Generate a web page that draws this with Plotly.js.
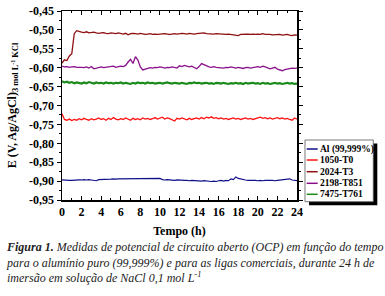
<!DOCTYPE html>
<html><head><meta charset="utf-8">
<script src="https://cdn.plot.ly/plotly-3.0.1.min.js"></script>
<style>html,body{margin:0;padding:0;background:#fff}#c{width:385px;height:296px}</style>
</head><body><div id="c"></div>
<script>
const time = [0,0.25,0.5,0.75,1,1.25,1.5,1.75,2,2.25,2.5,2.75,3,3.25,3.5,3.75,4,4.25,4.5,4.75,5,5.25,5.5,5.75,6,6.25,6.5,6.75,7,7.25,7.5,7.75,8,8.25,8.5,8.75,9,9.25,9.5,9.75,10,10.25,10.5,10.75,11,11.25,11.5,11.75,12,12.25,12.5,12.75,13,13.25,13.5,13.75,14,14.25,14.5,14.75,15,15.25,15.5,15.75,16,16.25,16.5,16.75,17,17.25,17.5,17.75,18,18.25,18.5,18.75,19,19.25,19.5,19.75,20,20.25,20.5,20.75,21,21.25,21.5,21.75,22,22.25,22.5,22.75,23,23.25,23.5,23.75,24];

const seriesNames = ["Al (99,999%)","1050-T0","2024-T3","2198-T851","7475-T761"];

const al = [
-0.897,-0.898,-0.897,-0.898,-0.898,-0.897,-0.898,-0.897,
-0.897,-0.896,-0.897,-0.896,-0.897,-0.898,-0.899,-0.896,
-0.896,-0.895,-0.896,-0.895,-0.895,-0.894,-0.895,-0.894,
-0.894,-0.893,-0.894,-0.893,-0.892,-0.892,-0.893,-0.892,
-0.892,-0.893,-0.892,-0.893,-0.892,-0.893,-0.893,-0.892,
-0.893,-0.896,-0.897,-0.896,-0.897,-0.897,-0.898,-0.897,
-0.898,-0.897,-0.898,-0.898,-0.899,-0.898,-0.899,-0.899,
-0.899,-0.900,-0.899,-0.900,-0.900,-0.901,-0.900,-0.901,
-0.899,-0.898,-0.900,-0.898,-0.899,-0.894,-0.896,-0.889,
-0.893,-0.895,-0.896,-0.897,-0.898,-0.897,-0.898,-0.898,
-0.899,-0.898,-0.899,-0.898,-0.899,-0.898,-0.898,-0.899,
-0.898,-0.897,-0.896,-0.894,-0.893,-0.894,-0.897,-0.899,
-0.899];

const a1050 = [
-0.722,-0.737,-0.739,-0.736,-0.740,-0.737,-0.739,-0.735,
-0.738,-0.734,-0.737,-0.739,-0.735,-0.738,-0.736,-0.733,
-0.737,-0.735,-0.739,-0.734,-0.737,-0.732,-0.736,-0.738,
-0.735,-0.737,-0.733,-0.736,-0.739,-0.734,-0.737,-0.735,
-0.738,-0.733,-0.736,-0.734,-0.737,-0.735,-0.732,-0.736,
-0.734,-0.731,-0.736,-0.733,-0.735,-0.737,-0.741,-0.734,
-0.736,-0.733,-0.735,-0.738,-0.734,-0.737,-0.735,-0.733,
-0.736,-0.732,-0.735,-0.731,-0.733,-0.730,-0.734,-0.732,
-0.735,-0.733,-0.736,-0.734,-0.737,-0.735,-0.733,-0.736,
-0.734,-0.737,-0.735,-0.733,-0.736,-0.734,-0.737,-0.735,
-0.733,-0.731,-0.734,-0.732,-0.735,-0.733,-0.736,-0.734,
-0.732,-0.735,-0.733,-0.736,-0.734,-0.737,-0.739,-0.733,
-0.736];

const a2024 = [
-0.588,-0.579,-0.581,-0.569,-0.563,-0.510,-0.502,-0.505,
-0.506,-0.507,-0.505,-0.508,-0.507,-0.506,-0.508,-0.509,
-0.508,-0.507,-0.509,-0.510,-0.508,-0.509,-0.510,-0.508,
-0.509,-0.511,-0.509,-0.513,-0.510,-0.509,-0.510,-0.511,
-0.509,-0.510,-0.512,-0.511,-0.510,-0.512,-0.511,-0.512,
-0.511,-0.512,-0.510,-0.511,-0.512,-0.511,-0.510,-0.511,
-0.510,-0.509,-0.510,-0.511,-0.509,-0.510,-0.511,-0.510,
-0.509,-0.507,-0.508,-0.510,-0.511,-0.510,-0.511,-0.510,
-0.511,-0.510,-0.511,-0.512,-0.511,-0.512,-0.511,-0.513,
-0.515,-0.512,-0.511,-0.512,-0.511,-0.512,-0.511,-0.512,
-0.511,-0.512,-0.510,-0.512,-0.511,-0.512,-0.513,-0.512,
-0.513,-0.512,-0.514,-0.513,-0.512,-0.514,-0.515,-0.513,
-0.514];

const a2198 = [
-0.596,-0.598,-0.597,-0.599,-0.598,-0.597,-0.599,-0.598,
-0.599,-0.600,-0.598,-0.601,-0.597,-0.603,-0.601,-0.599,
-0.598,-0.600,-0.599,-0.597,-0.598,-0.596,-0.599,-0.597,
-0.596,-0.597,-0.594,-0.585,-0.578,-0.589,-0.571,-0.580,
-0.598,-0.606,-0.604,-0.602,-0.600,-0.601,-0.599,-0.600,
-0.598,-0.599,-0.601,-0.599,-0.600,-0.598,-0.599,-0.601,
-0.595,-0.597,-0.594,-0.596,-0.598,-0.596,-0.599,-0.603,
-0.597,-0.589,-0.592,-0.596,-0.598,-0.599,-0.597,-0.599,
-0.600,-0.599,-0.601,-0.599,-0.600,-0.598,-0.600,-0.601,
-0.599,-0.600,-0.602,-0.600,-0.599,-0.601,-0.600,-0.598,
-0.597,-0.599,-0.596,-0.598,-0.600,-0.603,-0.601,-0.599,
-0.604,-0.607,-0.608,-0.605,-0.603,-0.602,-0.601,-0.602,
-0.601];

const a7475 = [
-0.636,-0.639,-0.637,-0.640,-0.638,-0.641,-0.639,-0.640,
-0.642,-0.639,-0.641,-0.638,-0.640,-0.642,-0.639,-0.641,
-0.640,-0.642,-0.639,-0.641,-0.640,-0.642,-0.640,-0.641,
-0.639,-0.642,-0.640,-0.641,-0.643,-0.640,-0.642,-0.639,
-0.641,-0.640,-0.642,-0.639,-0.641,-0.640,-0.642,-0.641,
-0.640,-0.642,-0.641,-0.639,-0.641,-0.642,-0.640,-0.641,
-0.642,-0.640,-0.641,-0.643,-0.640,-0.641,-0.639,-0.641,
-0.640,-0.642,-0.641,-0.640,-0.642,-0.641,-0.643,-0.640,
-0.641,-0.642,-0.640,-0.641,-0.643,-0.641,-0.642,-0.640,
-0.642,-0.641,-0.643,-0.640,-0.642,-0.641,-0.640,-0.642,
-0.641,-0.643,-0.640,-0.642,-0.641,-0.643,-0.642,-0.640,
-0.642,-0.641,-0.643,-0.642,-0.640,-0.642,-0.641,-0.643,
-0.642];

const xTickVals = [0,2,4,6,8,10,12,14,16,18,20,22,24];
const yTickVals = [-0.95,-0.90,-0.85,-0.80,-0.75,-0.70,-0.65,-0.60,-0.55,-0.50,-0.45];
const yTickText = ["-0,95","-0,90","-0,85","-0,80","-0,75","-0,70","-0,65","-0,60","-0,55","-0,50","-0,45"];

const seriesValues = [al, a1050, a2024, a2198, a7475];
const colors = ["#10108a","#ff1010","#8e1010","#8a108a","#1a8a1a"];
const widths = [1.2,1.3,1.3,1.3,2.2];

const serif = "Liberation Serif";
const traces = seriesValues.map((v,i)=>({
  x: time, y: v, type:'scatter', mode:'lines', name: seriesNames[i],
  line:{color:colors[i], width:widths[i]}, showlegend:false
}));

// custom compact legend (box in paper coordinates)
const lx0 = 1.034, lx1 = 1.3247, ly0 = -0.009, ly1 = 0.3175;
const shapes = [
  {type:'rect', xref:'paper', yref:'paper', layer:'above', x0:lx0+0.017, x1:lx1+0.017, y0:ly0-0.019, y1:ly1-0.019, fillcolor:'#000', line:{width:0}},
  {type:'rect', xref:'paper', yref:'paper', layer:'above', x0:lx0, x1:lx1, y0:ly0, y1:ly1, fillcolor:'#fff', line:{color:'#555', width:0.8}}
];
const annotations = [];
const itemY = [0.2698, 0.2116, 0.1497, 0.0884, 0.0302];
seriesNames.forEach((n,i)=>{
  shapes.push({type:'line', xref:'paper', yref:'paper', layer:'above', x0:1.0413, x1:1.088, y0:itemY[i], y1:itemY[i], line:{color:colors[i], width:1.5}});
  annotations.push({xref:'paper', yref:'paper', x:1.089, y:itemY[i], xanchor:'left', yanchor:'middle', showarrow:false,
    text:n, font:{family:serif, size:9.5, color:'#000', weight:700}});
});
annotations.push({
  xref:'paper', yref:'paper', x:-0.2468, y:-0.2, xanchor:'left', yanchor:'top', align:'left', showarrow:false,
  font:{family:serif, size:12, color:'#222', style:'italic'},
  text:'<b>Figura 1.</b> Medidas de potencial de circuito aberto (OCP) em função do tempo<br>para o alumínio puro (99,999%) e para as ligas comerciais, durante 24 h de<br>imersão em solução de NaCl 0,1 mol L<sup>-1</sup>'
});

const axisCommon = {
  showline:true, linecolor:'#000', linewidth:1.5, mirror:'ticks',
  showgrid:false, zeroline:false, ticklen:4, tickwidth:1, tickcolor:'#000',
  tickfont:{family:serif, size:12, color:'#000', weight:700}
};

const layout = {
  width:385, height:296,
  margin:{l:62, r:88, t:11, b:96},
  paper_bgcolor:'#fff', plot_bgcolor:'#fff',
  showlegend:false,
  xaxis: Object.assign({}, axisCommon, {
    range:[0,24], tickvals:xTickVals, ticks:'inside',
    minor:{dtick:1, ticklen:2, ticks:'inside', tickcolor:'#000'},
    title:{text:'Tempo (h)', font:{family:serif, size:12, color:'#000', weight:700}, standoff:8}
  }),
  yaxis: Object.assign({}, axisCommon, {
    range:[-0.95,-0.45], tickvals:yTickVals, ticktext:yTickText, ticks:'outside',
    minor:{dtick:0.025, tick0:-0.95, ticklen:2, ticks:'outside', tickcolor:'#000'},
    title:{text:'E (V, Ag/AgCl)<sub>3 mol L<sup>-1</sup> KCl</sub>', font:{family:serif, size:12, color:'#000', weight:700}, standoff:10}
  }),
  shapes: shapes,
  annotations: annotations
};

Plotly.newPlot('c', traces, layout, {staticPlot:true, displayModeBar:false});
</script>
</body></html>
